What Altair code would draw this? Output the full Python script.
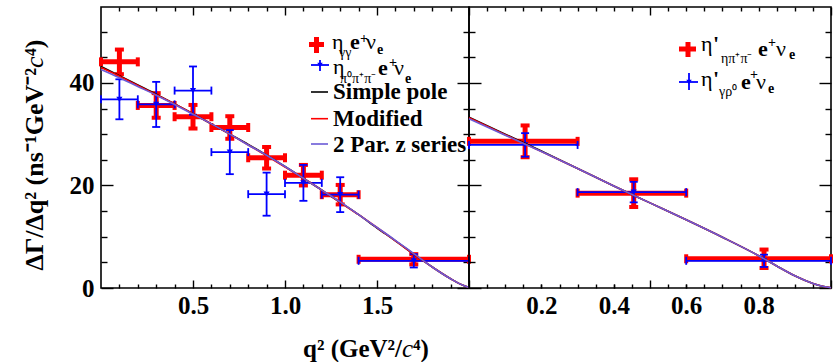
import altair as alt
import pandas as pd

SERIF = "Liberation Serif"
RED, BLUE, BLACK, VIOLET = "#ff0000", "#0000ff", "#000000", "#6b5bd6"

# D_s+ -> eta e+ nu : partial rates per q^2 bin (ns^-1 GeV^-2 c^4)
eta_lo = [0.0, 0.2, 0.4, 0.6, 0.8, 1.0, 1.2, 1.4]
eta_hi = [0.2, 0.4, 0.6, 0.8, 1.0, 1.2, 1.4, 2.0]
eta_mid = [0.1, 0.3, 0.5, 0.7, 0.9, 1.1, 1.3, 1.7]
eta_gg = [44.1, 35.6, 33.4, 31.3, 25.4, 22.0, 18.2, 5.6]
eta_gg_err = [2.4, 2.4, 2.3, 2.2, 2.1, 2.0, 1.9, 1.0]
eta_3pi = [36.8, 35.8, 38.5, 26.5, 18.3, 20.5, 18.2, 5.3]
eta_3pi_err = [3.9, 4.4, 4.7, 4.3, 4.2, 3.5, 3.4, 1.3]

# D_s+ -> eta' e+ nu
etap_lo = [0.0, 0.3, 0.6]
etap_hi = [0.3, 0.6, 1.0]
etap_mid = [0.155, 0.455, 0.815]
etap_eta2pi = [28.6, 18.5, 5.7]
etap_eta2pi_err = [3.1, 2.7, 1.8]
etap_grho = [27.9, 18.7, 5.3]
etap_grho_err = [2.3, 2.0, 1.2]

# form-factor fits
eta_fit_q2 = [0.0, 0.1, 0.2, 0.3, 0.4, 0.5, 0.6, 0.7, 0.8, 0.9, 1.0,
              1.1, 1.2, 1.3, 1.4, 1.5, 1.6, 1.7, 1.8, 1.9, 1.95, 2.0]
eta_fit_pole = [43.2, 41.4, 39.6, 37.8, 35.9, 34.0, 32.0, 30.0, 28.0, 25.9, 23.7,
                21.4, 19.1, 16.7, 14.3, 11.7, 9.2, 6.6, 4.1, 1.8, 0.8, 0.1]
eta_fit_mod = [43.0, 41.3, 39.5, 37.7, 35.9, 34.0, 32.0, 30.0, 27.9, 25.8, 23.6,
               21.4, 19.1, 16.7, 14.3, 11.8, 9.2, 6.6, 4.1, 1.8, 0.8, 0.1]
eta_fit_z = [42.6, 41.0, 39.3, 37.6, 35.8, 33.9, 32.0, 30.0, 27.9, 25.9, 23.7,
             21.4, 19.1, 16.8, 14.3, 11.8, 9.3, 6.7, 4.1, 1.8, 0.8, 0.1]
etap_fit_q2 = [0.0, 0.1, 0.2, 0.3, 0.4, 0.5, 0.6, 0.7, 0.8, 0.85, 0.9, 0.95, 0.98, 1.0]
etap_fit_pole = [33.3, 30.0, 26.7, 23.3, 19.9, 16.6, 13.3, 9.9, 6.3, 4.3, 2.4, 0.9, 0.3, 0.05]
etap_fit_mod = [33.2, 29.9, 26.6, 23.3, 19.9, 16.6, 13.3, 9.9, 6.3, 4.3, 2.4, 0.9, 0.3, 0.05]
etap_fit_z = [33.0, 29.8, 26.6, 23.3, 19.9, 16.6, 13.3, 9.9, 6.3, 4.3, 2.4, 0.9, 0.3, 0.05]

# axis ticks
y_major = [0, 20, 40]
y_minor = [5, 10, 15, 25, 30, 35, 45, 50]
eta_x_major = [0.5, 1.0, 1.5]
eta_x_minor = [0.1, 0.2, 0.3, 0.4, 0.6, 0.7, 0.8, 0.9, 1.1, 1.2, 1.3, 1.4, 1.6, 1.7, 1.8, 1.9]
etap_x_labels = [0.2, 0.4, 0.6, 0.8]
etap_x_major = [0.0, 0.5, 1.0]
etap_x_minor = [0.05, 0.1, 0.15, 0.2, 0.25, 0.3, 0.35, 0.4, 0.45,
                0.55, 0.6, 0.65, 0.7, 0.75, 0.8, 0.85, 0.9, 0.95]

H, Y_MAX = 281, 54.8
W_LEFT, W_RIGHT = 368, 362
ONE = pd.DataFrame({"k": [0]})
YS = alt.Scale(domain=[0, Y_MAX], nice=False, zero=False)


def ticks_axis(orient, values, length, labels=False, pad=5, fmt=".1f"):
    # ticks drawn inside the frame: axis pulled in by its own tick length
    kw = dict(orient=orient, values=values, tickSize=length, offset=-length,
              domain=False, grid=False, title=None, tickColor=BLACK,
              tickWidth=1.4, labels=labels)
    if labels:
        kw.update(labelFont=SERIF, labelFontSize=25, labelFontWeight="bold",
                  labelColor=BLACK, labelPadding=pad, labelFlush=False,
                  labelOverlap=False, labelBound=False, format=fmt)
    return alt.Axis(**kw)


def series(lo, hi, mid, v, e):
    return pd.DataFrame({"lo": lo, "hi": hi, "mid": mid, "v": v,
                         "vlo": [a - b for a, b in zip(v, e)],
                         "vhi": [a + b for a, b in zip(v, e)]})


def errbars(df, xs, color, sw, cap, cap_w):
    X = lambda f, ax: alt.X(f, type="quantitative", scale=xs, axis=ax)
    Y = lambda f, ax: alt.Y(f, type="quantitative", scale=YS, axis=ax)
    base = alt.Chart(df)
    rule = dict(color=color, strokeWidth=sw, strokeCap="butt")
    vtick = dict(orient="vertical", size=cap, thickness=cap_w, color=color, opacity=1)
    htick = dict(orient="horizontal", size=cap, thickness=cap_w, color=color, opacity=1)
    return [
        lambda xa, ya: base.mark_rule(**rule).encode(x=X("lo", xa), x2="hi", y=Y("v", ya)),
        lambda xa, ya: base.mark_rule(**rule).encode(x=X("mid", xa), y=Y("vlo", ya), y2="vhi"),
        lambda xa, ya: base.mark_tick(**vtick).encode(x=X("lo", xa), y=Y("v", ya)),
        lambda xa, ya: base.mark_tick(**vtick).encode(x=X("hi", xa), y=Y("v", ya)),
        lambda xa, ya: base.mark_tick(**htick).encode(x=X("mid", xa), y=Y("vlo", ya)),
        lambda xa, ya: base.mark_tick(**htick).encode(x=X("mid", xa), y=Y("vhi", ya)),
    ]


def markers(df, xs):
    return lambda xa, ya: alt.Chart(df).mark_point(
        shape="triangle-down", filled=True, size=38, color=BLUE, opacity=1
    ).encode(x=alt.X("mid", type="quantitative", scale=xs, axis=xa),
             y=alt.Y("v", type="quantitative", scale=YS, axis=ya))


def fit(q, v, color, xs):
    df = pd.DataFrame({"q": q, "v": v})
    return lambda xa, ya: alt.Chart(df).mark_line(
        color=color, strokeWidth=1.6, interpolate="monotone"
    ).encode(x=alt.X("q", type="quantitative", scale=xs, axis=xa),
             y=alt.Y("v", type="quantitative", scale=YS, axis=ya))


def txt(s, x, y, size, weight="bold", style="normal", align="left", angle=0):
    return alt.Chart(ONE).mark_text(
        text=s, align=align, baseline="alphabetic", font=SERIF, fontSize=size,
        fontWeight=weight, fontStyle=style, angle=angle, color=BLACK
    ).encode(x=alt.value(x), y=alt.value(y))


def seg(x1, y1, x2, y2, color, sw):
    return alt.Chart(ONE).mark_rule(color=color, strokeWidth=sw, strokeCap="butt").encode(
        x=alt.value(x1), x2=alt.value(x2), y=alt.value(y1), y2=alt.value(y2))


def tri(x, y):
    return alt.Chart(ONE).mark_point(shape="triangle-down", filled=True, size=30,
                                     color=BLUE, opacity=1).encode(x=alt.value(x), y=alt.value(y))


def anchor(x, y):
    # transparent point that fixes the outer extent of the page
    return alt.Chart(ONE).mark_rule(strokeOpacity=0).encode(
        x=alt.value(x), x2=alt.value(x), y=alt.value(y), y2=alt.value(y + 1))


def assemble(width, carriers, x_axes, y_axes, decor):
    layers = []
    for i, make in enumerate(carriers):
        xa = x_axes[i] if i < len(x_axes) else None
        ya = y_axes[i] if i < len(y_axes) else None
        layers.append(make(xa, ya))
    layers += decor
    return alt.layer(*layers).resolve_axis(x="independent", y="independent").properties(
        width=width, height=H)


# ---------------- left panel: eta ----------------
XL = alt.Scale(domain=[0, 2], nice=False, zero=False)
gg = series(eta_lo, eta_hi, eta_mid, eta_gg, eta_gg_err)
tpi = series(eta_lo, eta_hi, eta_mid, eta_3pi, eta_3pi_err)

left_carriers = (errbars(gg, XL, RED, 5, 9, 4) + errbars(tpi, XL, BLUE, 1.8, 8, 1.8)
                 + [markers(tpi, XL),
                    fit(eta_fit_q2, eta_fit_pole, BLACK, XL),
                    fit(eta_fit_q2, eta_fit_mod, RED, XL),
                    fit(eta_fit_q2, eta_fit_z, VIOLET, XL)])
left_x_axes = [ticks_axis("bottom", eta_x_major, 8, labels=True, pad=5),
               ticks_axis("bottom", eta_x_minor, 4),
               ticks_axis("top", eta_x_major, 8),
               ticks_axis("top", eta_x_minor, 4)]
left_y_axes = [ticks_axis("left", y_major, 12, labels=True, pad=7, fmt="d"),
               ticks_axis("left", y_minor, 6),
               ticks_axis("right", y_major, 12),
               ticks_axis("right", y_minor, 6)]

left_decor = [
    anchor(-100, -6), anchor(-100, 355),
    # legend
    seg(208, 37.5, 223, 37.5, RED, 5), seg(215.5, 30, 215.5, 46, RED, 5),
    txt("η", 231, 42, 22, weight="normal"), txt("γγ", 238, 50, 14, weight="normal"),
    txt("e", 249, 42, 22), txt("+", 259, 35.5, 14), txt("ν", 265, 42, 22, weight="normal"),
    txt("e", 276, 47, 14),
    seg(210, 58, 228, 58, BLUE, 1.8), seg(219, 53, 219, 64, BLUE, 1.8), tri(219, 58),
    txt("η", 232, 67, 22, weight="normal"), txt("π⁰π⁺π⁻", 239, 76, 14, weight="normal"),
    txt("e", 277, 68, 22), txt("+", 288, 60, 14), txt("ν", 293, 68, 22, weight="normal"),
    txt("e", 304, 76, 14),
    seg(210, 85, 227, 85, BLACK, 1.6), txt("Simple pole", 232, 92, 23),
    seg(210, 111.7, 227, 111.7, RED, 1.6), txt("Modified", 232, 119, 23),
    seg(210, 137, 227, 137, VIOLET, 1.6), txt("2 Par. z series", 232, 145, 23),
    # axis titles
    txt("ΔΓ/Δq² (ns⁻¹GeV⁻²", -58, 61, 26, align="right", angle=270),
    txt("c", -58, 61, 26, weight="normal", style="italic", angle=270),
    txt("⁴)", -58, 49, 26, angle=270),
    txt("q² (GeV²/", 301, 350, 25, align="right"),
    txt("c", 301, 350, 25, weight="normal", style="italic"),
    txt("⁴)", 312, 350, 25),
]
left = assemble(W_LEFT, left_carriers, left_x_axes, left_y_axes, left_decor)

# ---------------- right panel: eta' ----------------
XR = alt.Scale(domain=[0, 1], nice=False, zero=False)
e2pi = series(etap_lo, etap_hi, etap_mid, etap_eta2pi, etap_eta2pi_err)
grho = series(etap_lo, etap_hi, etap_mid, etap_grho, etap_grho_err)

right_carriers = (errbars(e2pi, XR, RED, 5, 9, 4) + errbars(grho, XR, BLUE, 1.8, 8, 1.8)
                  + [markers(grho, XR),
                     fit(etap_fit_q2, etap_fit_pole, BLACK, XR),
                     fit(etap_fit_q2, etap_fit_mod, RED, XR),
                     fit(etap_fit_q2, etap_fit_z, VIOLET, XR)])
right_x_axes = [ticks_axis("bottom", etap_x_labels, 4, labels=True, pad=5),
                ticks_axis("bottom", etap_x_major, 8),
                ticks_axis("bottom", etap_x_minor, 4),
                ticks_axis("top", etap_x_major, 8),
                ticks_axis("top", etap_x_minor, 4)]
right_y_axes = [ticks_axis("left", y_major, 12),
                ticks_axis("left", y_minor, 6),
                ticks_axis("right", y_major, 12),
                ticks_axis("right", y_minor, 6)]
right_decor = [
    seg(210, 42, 227, 42, RED, 5), seg(219, 35, 219, 50, RED, 5),
    txt("η", 232, 44, 22, weight="normal"), txt("'", 244, 44, 22),
    txt("ηπ⁺π⁻", 252, 56, 14, weight="normal"),
    txt("e", 289, 49, 22), txt("+", 299, 40, 14), txt("ν", 307, 49, 22, weight="normal"),
    txt("e", 320, 52, 14),
    seg(210, 75, 229, 75, BLUE, 1.8), seg(220, 66, 220, 83, BLUE, 1.8), tri(220, 75),
    txt("η", 232, 79, 22, weight="normal"), txt("'", 244, 79, 22),
    txt("γρ⁰", 250, 89, 14, weight="normal"),
    txt("e", 272, 82, 22), txt("+", 281, 72, 14), txt("ν", 287, 82, 22, weight="normal"),
    txt("e", 299, 86, 14),
]
right = assemble(W_RIGHT, right_carriers, right_x_axes, right_y_axes, right_decor)

chart = alt.hconcat(left, right, spacing=0, bounds="flush").properties(
    padding=0, background="white"
).configure_view(stroke=BLACK, strokeWidth=1.6)

chart.save("out.html", embed_options={"renderer": "svg", "actions": False})
